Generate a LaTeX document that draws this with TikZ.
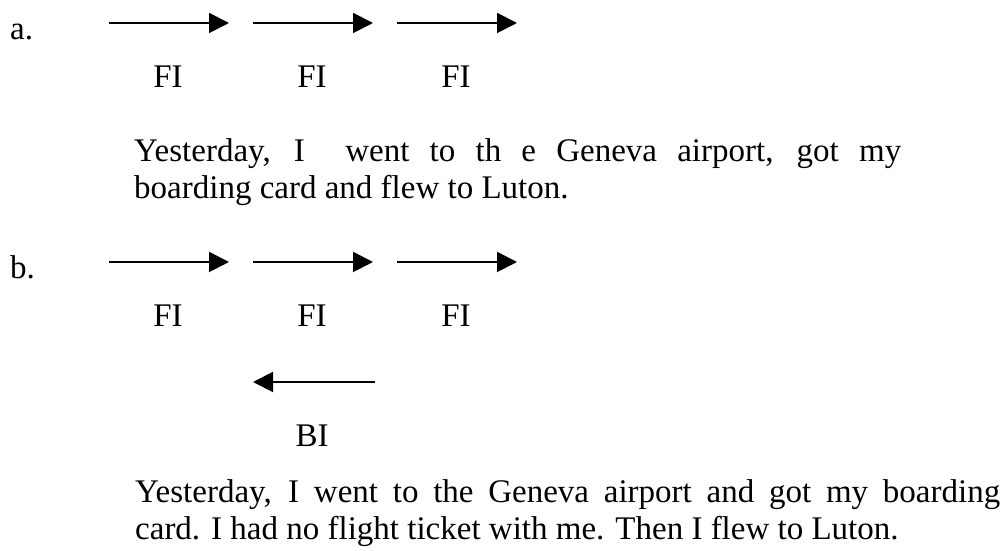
\documentclass[tikz,border=0pt]{standalone}
\usepackage{fontspec}
\setmainfont{Liberation Serif}
\usepackage{tikz}
\usetikzlibrary{arrows.meta}

\begin{document}
\begin{tikzpicture}[x=1pt,y=1pt,
    txt/.style={inner sep=0pt,font=\fontsize{33}{39}\selectfont},
    fwd/.style={line width=2pt,-{Triangle[length=20pt,width=20pt]}}]
  \useasboundingbox (0,0) rectangle (1004,551);

  \node[txt,anchor=base west] (la) at (10,511) {a.};
  \coordinate (a0) at (109,528);
  \coordinate (a1) at (229,528);
  \coordinate (a2) at (253,528);
  \coordinate (a3) at (373,528);
  \coordinate (a4) at (397,528);
  \coordinate (a5) at (517,528);
  \draw[fwd] (a0) -- (a1);
  \draw[fwd] (a2) -- (a3);
  \draw[fwd] (a4) -- (a5);
  \node[txt,anchor=base] (fa1) at (168,463) {FI};
  \node[txt,anchor=base] (fa2) at (312,463) {FI};
  \node[txt,anchor=base] (fa3) at (456,463) {FI};
  \node[txt,anchor=base west] (pa1) at (134,389)
    {\makebox[767pt][s]{Yesterday, I\ \ went to th e Geneva airport, got my}};
  \node[txt,anchor=base west] (pa2) at (134,352) {boarding card and flew to Luton.};

  \node[txt,anchor=base west] (lb) at (10,272) {b.};
  \coordinate (b0) at (109,289);
  \coordinate (b1) at (229,289);
  \coordinate (b2) at (253,289);
  \coordinate (b3) at (373,289);
  \coordinate (b4) at (397,289);
  \coordinate (b5) at (517,289);
  \draw[fwd] (b0) -- (b1);
  \draw[fwd] (b2) -- (b3);
  \draw[fwd] (b4) -- (b5);
  \node[txt,anchor=base] (fb1) at (168,224) {FI};
  \node[txt,anchor=base] (fb2) at (312,224) {FI};
  \node[txt,anchor=base] (fb3) at (456,224) {FI};
  \coordinate (bi0) at (375,169);
  \coordinate (bi1) at (253,169);
  \draw[fwd] (bi0) -- (bi1);
  \node[txt,anchor=base] (bi) at (312,104) {BI};
  \node[txt,anchor=base west] (pb1) at (135,48)
    {\makebox[865pt][s]{Yesterday, I went to the Geneva airport and got my boarding}};
  \node[txt,anchor=base west] (pb2) at (135,11) {card. I had no flight ticket with me. Then I flew to Luton.};
\end{tikzpicture}
\end{document}
